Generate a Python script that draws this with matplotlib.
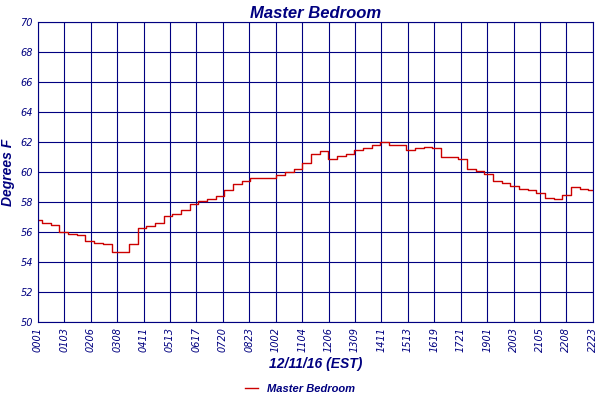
import matplotlib
matplotlib.use("Agg")
from matplotlib import pyplot as plt
import numpy as np

NAVY = "#000080"

tick_labels = ["0001", "0103", "0206", "0308", "0411", "0513", "0617", "0720",
               "0823", "1002", "1104", "1206", "1309", "1411", "1513", "1619",
               "1721", "1901", "2003", "2105", "2208", "2223"]

# readings at half-interval steps between the tick labels
temps = [56.8, 56.6, 56.5, 56.0, 55.9, 55.8, 55.4, 55.3, 55.2, 54.7, 54.7, 55.2,
         56.3, 56.4, 56.6, 57.1, 57.2, 57.5, 57.9, 58.1, 58.2, 58.4, 58.8, 59.2,
         59.4, 59.6, 59.6, 59.6, 59.8, 60.0, 60.2, 60.6, 61.2, 61.4, 60.9, 61.1,
         61.2, 61.5, 61.6, 61.8, 62.0, 61.8, 61.8, 61.5, 61.6, 61.7, 61.6, 61.0,
         61.0, 60.9, 60.2, 60.1, 59.9, 59.4, 59.3, 59.1, 58.9, 58.8, 58.6, 58.3,
         58.2, 58.5, 59.0, 58.9, 58.8]

x = np.linspace(0, len(tick_labels) - 1, len(temps))

fig = plt.figure(figsize=(6, 4), dpi=100)
ax = fig.add_axes([0.063, 0.195, 0.925, 0.75])
ax.plot(x, temps, color="#cc0000", lw=1, drawstyle="steps-mid", label="Master Bedroom")

ax.set_xlim(0, len(tick_labels) - 1)
ax.set_ylim(50, 70)
ax.set_xticks(range(len(tick_labels)))
ax.set_xticklabels(tick_labels, rotation=90)
ax.set_yticks(range(50, 71, 2))
ax.grid(True, color=NAVY, lw=0.8)
ax.tick_params(colors=NAVY, labelsize=7, length=0)
for s in ax.spines.values():
    s.set_color(NAVY)

font = dict(family="Liberation Sans", style="italic", weight="bold", color=NAVY)
ax.set_title("Master Bedroom", fontsize=12, pad=3, **font)
ax.set_xlabel("12/11/16 (EST)", fontsize=10, labelpad=4, **font)
ax.set_ylabel("Degrees F", fontsize=10, labelpad=4, **font)
for lbl in ax.get_xticklabels() + ax.get_yticklabels():
    lbl.set_fontstyle("italic")

leg = fig.legend(loc="lower center", bbox_to_anchor=(0.5, -0.01), frameon=False,
                 prop=dict(family="Liberation Sans", style="italic", weight="bold", size=8),
                 handlelength=1.2)
for t in leg.get_texts():
    t.set_color(NAVY)

fig.savefig("out.png")
